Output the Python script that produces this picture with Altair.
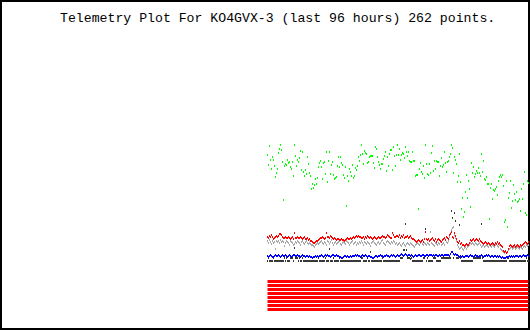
import altair as alt
import pandas as pd

TITLE = "Telemetry Plot For KO4GVX-3 (last 96 hours) 262 points."

GREEN = [
    174, 164, 183, 169, 160, 172, 169, 163, 152, 156,
    160, 176, 180, 184, 179, 167, 129, 163, 165, 164,
    169, 166, 167, 162, 160, 167, 153, 184, 173, 163,
    169, 167, 171, 178, 159, 177, 157, 153, 159, 155,
    172, 165, 156, 153, 140, 145, 141, 144, 150, 145,
    151, 162, 166, 168, 162, 150, 166, 167, 155, 177,
    147, 168, 177, 155, 164, 167, 154, 150, 151, 152,
    163, 172, 162, 172, 166, 164, 154, 151, 162, 123,
    153, 148, 160, 157, 153, 164, 151, 153, 161, 159,
    163, 172, 168, 174, 184, 175, 165, 178, 176, 175,
    166, 167, 172, 173, 173, 173, 166, 161, 182, 180,
    172, 167, 164, 160, 165, 165, 170, 173, 177, 158,
    172, 163, 175, 179,
    179, 159, 182, 173, 163, 174, 184, 174, 180, 169,
    174, 176, 175, 171, 182, 177, 173, 177, 168, 167,
    167, 177, 168, 168, 153, 154, 154, 120, 160, 166,
    157, 155, 163, 151, 184, 165, 155, 154, 165, 156,
    176, 183, 158, 168, 160, 168, 167, 167, 153, 163,
    171, 162, 164, 177, 166, 157, 167, 168, 172, 175,
    184, 181, 156, 172, 169, 165, 147, 153, 175, 147,
    120, 131, 112, 117, 137, 154, 131, 148, 140, 122,
    166, 156, 162, 152, 155, 158, 156, 161, 156, 153,
    175, 157, 168, 150, 149, 152, 145, 145, 110, 141,
    145, 130, 139, 138, 140, 142, 134, 148, 152, 154,
    152, 154, 143, 107, 109, 148, 102, 131, 136, 148,
    121, 128, 144, 135, 129, 137, 127, 128, 130, 118,
    140, 130, 145, 157, 116, 114, 148, 146,
]

RED = [
    92, 91, 93, 92, 94, 92, 90, 91, 92, 93,
    92, 93, 95, 95, 94, 92, 91, 91, 92, 91,
    91, 92, 91, 90, 91, 92, 90, 96, 91, 91,
    92, 91, 91, 92, 91, 90, 91, 92, 90, 90,
    91, 89, 90, 88, 88, 87, 86, 86, 87, 88,
    88, 89, 90, 91, 91, 92, 91, 90, 91, 96,
    92, 92, 91, 93, 92, 91, 90, 91, 90, 89,
    90, 90, 89, 89, 90, 89, 89, 88, 89, 90,
    91, 90, 90, 91, 90, 91, 92, 91, 92, 93,
    92, 93, 92, 92, 91, 91, 92, 90, 92, 91,
    93, 92, 91, 92, 91, 90, 91, 92, 91, 90,
    91, 92, 91, 91, 92, 93, 92, 92, 91, 92,
    94, 93, 92, 91, 91, 96, 94, 92, 92, 93,
    93, 92, 94, 91, 93, 92, 94, 91, 92, 92,
    93, 91, 92, 93, 91, 90, 90, 89, 88, 87,
    88, 89, 88, 87, 88, 89, 87, 90, 97, 90,
    89, 90, 88, 89, 90, 91, 89, 88, 90, 87,
    89, 90, 89, 88, 87, 89, 90, 91, 89, 92,
    91, 90, 94, 95, 97, 92, 91, 96, 93, 90,
    87, 86, 88, 85, 86, 84, 84, 83, 84, 85,
    84, 84, 86, 89, 88, 89, 90, 88, 89, 90,
    89, 88, 90, 88, 87, 86, 85, 86, 87, 86,
    85, 86, 85, 84, 85, 86, 85, 84, 86, 85,
    87, 85, 86, 84, 83, 82, 78, 77, 78, 76,
    77, 80, 83, 84, 83, 82, 83, 84, 82, 83,
    84, 83, 82, 84, 83, 84, 85, 86, 87, 86,
    85, 87,
]

GRAY = [
    88, 86, 89, 87, 85, 88, 86, 87, 80, 88,
    87, 88, 86, 89, 87, 88, 87, 83, 86, 88,
    87, 86, 84, 88, 87, 86, 84, 85, 87, 86,
    88, 87, 86, 84, 87, 88, 86, 85, 87, 88,
    86, 85, 86, 85, 84, 84, 83, 82, 84, 85,
    86, 85, 86, 87, 88, 86, 85, 87, 86, 84,
    88, 87, 85, 87, 89, 86, 84, 86, 87, 85,
    86, 87, 88, 85, 84, 86, 87, 86, 85, 88,
    87, 86, 84, 86, 87, 88, 85, 86, 87, 84,
    86, 85, 87, 86, 88, 86, 84, 87, 86, 85,
    87, 86, 85, 83, 86, 87, 88, 86, 85, 84,
    86, 87, 85, 86, 88, 89, 86, 85, 84, 87,
    88, 87, 86, 85, 87, 86, 88, 87, 85, 86,
    84, 85, 86, 84, 83, 85, 86, 84, 83, 85,
    86, 85, 84, 86, 85, 84, 83, 82, 84, 85,
    86, 85, 84, 86, 87, 85, 84, 86, 85, 84,
    86, 85, 84, 97, 86, 85, 84, 83, 86, 85,
    84, 86, 85, 87, 84, 85, 86, 84, 89, 87,
    86, 88, 92, 96, 99, 101, 102, 94, 91, 88,
    84, 82, 80, 81, 82, 80, 79, 81, 82, 80,
    82, 83, 84, 86, 85, 86, 85, 84, 86, 85,
    84, 85, 86, 84, 82, 83, 84, 82, 83, 84,
    83, 82, 84, 83, 82, 84, 83, 82, 84, 85,
    83, 82, 84, 80, 79, 78, 77, 76, 77, 76,
    77, 79, 80, 81, 82, 80, 81, 82, 80, 81,
    82, 81, 80, 82, 81, 80, 82, 83, 82, 84,
    83, 84,
]

BLUE = [
    73, 72, 73, 74, 73, 72, 72, 73, 74, 73,
    73, 74, 73, 72, 73, 74, 73, 73, 74, 73,
    72, 73, 74, 73, 72, 73, 74, 74, 73, 73,
    74, 73, 73, 72, 73, 74, 73, 73, 72, 73,
    73, 72, 73, 72, 72, 71, 72, 72, 73, 72,
    73, 72, 73, 73, 74, 73, 72, 73, 74, 73,
    74, 73, 73, 72, 73, 74, 74, 73, 73, 74,
    73, 73, 72, 72, 71, 71, 72, 73, 73, 72,
    73, 72, 72, 73, 72, 73, 73, 73, 74, 73,
    74, 73, 73, 72, 73, 74, 73, 73, 74, 73,
    72, 73, 73, 72, 72, 71, 71, 72, 73, 73,
    72, 73, 73, 74, 73, 73, 72, 73, 73, 74,
    73, 73, 72, 73, 74, 73, 74, 73, 72, 73,
    74, 73, 73, 74, 75, 74, 73, 74, 75, 74,
    73, 74, 74, 73, 74, 73, 72, 73, 74, 73,
    73, 74, 74, 73, 73, 74, 74, 73, 73, 74,
    74, 73, 74, 74, 74, 73, 74, 73, 74, 74,
    73, 73, 74, 73, 74, 74, 73, 74, 74, 74,
    74, 74, 73, 75, 77, 77, 75, 74, 75, 74,
    74, 73, 72, 73, 72, 73, 72, 72, 73, 73,
    73, 72, 73, 74, 73, 73, 72, 73, 74, 73,
    73, 72, 73, 73, 74, 73, 72, 73, 73, 74,
    73, 74, 73, 72, 73, 73, 72, 73, 73, 72,
    73, 72, 73, 72, 71, 72, 71, 71, 71, 72,
    72, 72, 73, 72, 73, 72, 73, 72, 73, 73,
    73, 72, 73, 73, 72, 73, 74, 73, 73, 73,
    74, 73,
]

DARK = [
    68, 71, 68, 68, 68, 68, 71, 68, 68, 68,
    68, 68, 68, 68, 68, 68, 68, 71, 68, 71,
    68, 68, 68, 71, 71, 71, 68, 81, 71, 71,
    71, 68, 71, 68, 68, 71, 68, 68, 68, 68,
    68, 68, 68, 68, 68, 68, 68, 68, 68, 68,
    68, 71, 68, 68, 68, 68, 68, 68, 71, 68,
    68, 68, 80, 68, 68, 68, 71, 68, 68, 68,
    68, 68, 71, 68, 68, 68, 68, 68, 68, 68,
    68, 68, 68, 68, 68, 68, 68, 68, 68, 68,
    68, 68, 68, 68, 71, 71, 68, 68, 68, 68,
    71, 68, 68, 77, 68, 68, 68, 68, 68, 68,
    68, 68, 68, 68, 68, 71, 68, 68, 68, 68,
    68, 68, 68, 68, 68, 68, 68, 68, 68, 68,
    68, 68, 68, 71, 71, 71, 79, 79, 105, 79,
    71, 71, 71, 70, 71, 68, 68, 68, 68, 68,
    68, 68, 68, 68, 68, 68, 71, 71, 100, 68,
    71, 68, 68, 68, 68, 68, 71, 71, 71, 68,
    68, 68, 68, 68, 71, 71, 71, 71, 71, 71,
    71, 71, 71, 71, 118, 111, 71, 116, 108, 71,
    71, 71, 104, 71, 68, 68, 68, 68, 68, 68,
    68, 68, 68, 68, 68, 68, 71, 71, 71, 71,
    71, 71, 71, 71, 105, 71, 68, 68, 68, 68,
    68, 68, 68, 68, 68, 68, 68, 68, 68, 68,
    68, 68, 68, 68, 68, 68, 68, 68, 68, 68,
    71, 71, 68, 68, 68, 68, 68, 68, 68, 68,
    68, 68, 68, 68, 68, 68, 68, 68, 68, 71,
    68, 68,
]

SERIES_NAMES = ["gray", "red", "dark", "blue", "green"]
SERIES_COLORS = ["#a8a8a8", "#ff0000", "#383838", "#0000ff", "#00ff00"]

BIT_NAMES = ["bit0", "bit1", "bit2", "bit3", "bit4", "bit5", "bit6", "bit7"]
BIT_LEVELS = [47.5, 43.5, 39.5, 35.5, 31.5, 27.5, 23.5, 19.5]
BIT_FIRST_SAMPLE = 0
BIT_LAST_SAMPLE = 261

series_values = [GRAY, RED, DARK, BLUE, GREEN]
rows = []
k = 0
for name, vals in zip(SERIES_NAMES, series_values):
    for i, v in enumerate(vals):
        rows.append({"sample": i, "value": v, "series": name, "o": k})
        k += 1
df = pd.DataFrame(rows)

bits_df = pd.DataFrame({
    "bit": BIT_NAMES,
    "level": BIT_LEVELS,
    "start": [BIT_FIRST_SAMPLE] * len(BIT_NAMES),
    "end": [BIT_LAST_SAMPLE] * len(BIT_NAMES),
})

x_scale = alt.Scale(domain=[-266.5, 261.5], nice=False, zero=False)
y_scale = alt.Scale(domain=[0, 328], nice=False, zero=False)

points = alt.Chart(df).mark_tick(
    orient="vertical", size=2, thickness=1, opacity=1
).encode(
    x=alt.X("sample:Q", scale=x_scale, axis=None),
    y=alt.Y("value:Q", scale=y_scale, axis=None),
    color=alt.Color("series:N", scale=alt.Scale(domain=SERIES_NAMES, range=SERIES_COLORS), legend=None),
    order=alt.Order("o:Q"),
)

bits = alt.Chart(bits_df).mark_rule(color="#ff0000", strokeWidth=3).encode(
    x=alt.X("start:Q", scale=x_scale, axis=None),
    x2="end:Q",
    y=alt.Y("level:Q", scale=y_scale, axis=None),
)

title = alt.Chart(pd.DataFrame({"t": [TITLE]})).mark_text(
    align="left", baseline="alphabetic", font="Liberation Mono",
    fontSize=13.2, color="black"
).encode(
    text="t:N",
    x=alt.value(59),
    y=alt.value(21),
)

chart = alt.layer(bits, points, title).properties(
    width=528,
    height=328,
    padding=1,
    autosize=alt.AutoSizeParams(type="none"),
    background="white",
).configure_view(stroke="black", strokeWidth=2)

chart.save("out.html", embed_options={"renderer": "svg", "actions": False})
